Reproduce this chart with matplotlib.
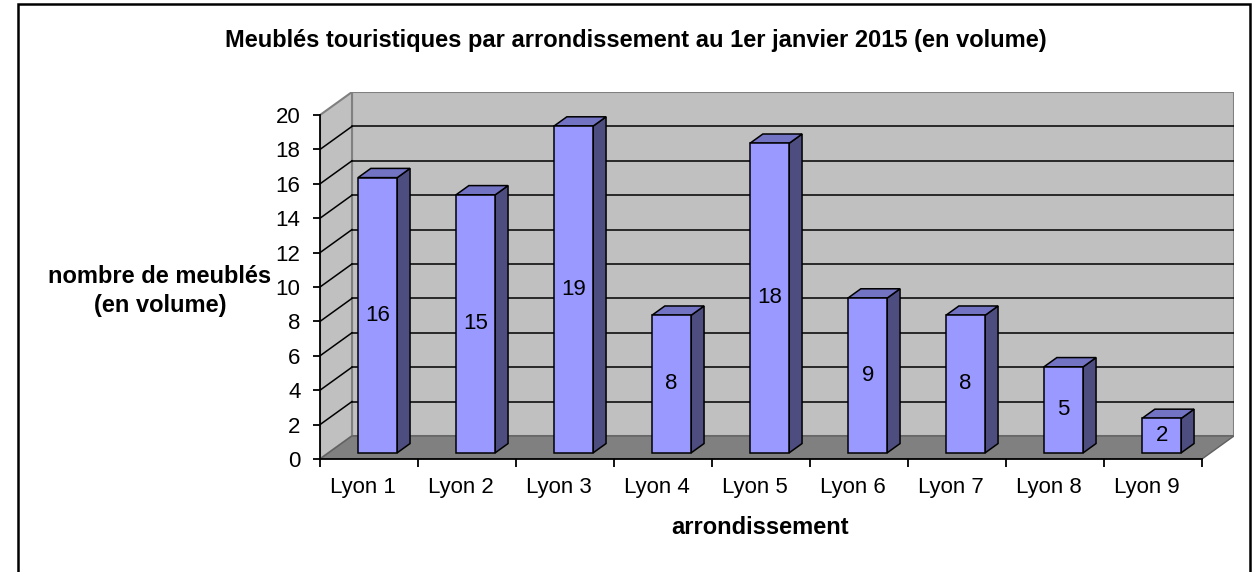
import matplotlib.pyplot as plt
from matplotlib.patches import Polygon, Rectangle

plt.rcParams['font.family'] = ['Liberation Sans', 'DejaVu Sans']

# data
categories = ["Lyon 1", "Lyon 2", "Lyon 3", "Lyon 4", "Lyon 5",
              "Lyon 6", "Lyon 7", "Lyon 8", "Lyon 9"]
values = [16, 15, 19, 8, 18, 9, 8, 5, 2]
y_ticks = list(range(0, 21, 2))

title = "Meublés touristiques par arrondissement au 1er janvier 2015 (en volume)"
ylabel = "nombre de meublés\n(en volume)"
xlabel = "arrondissement"

# pseudo 3D geometry (data units)
DX, DY = 0.3265, 1.34      # wall depth offset
F0 = 0.27                  # bar front position in depth
BD = 0.40                  # bar depth
W = 0.40                   # bar width
YMAX = 20
N = len(categories)

W_PX, H_PX = 1253, 572
fig = plt.figure(figsize=(W_PX / 100, H_PX / 100), dpi=100)

def fx(px):
    return px / W_PX

def fy(py):
    return 1 - py / H_PX

ax = fig.add_axes([fx(320), fy(459), 914 / W_PX, 367 / H_PX])
ax.set_xlim(0, N + DX)
ax.set_ylim(0, YMAX + DY)
ax.patch.set_visible(False)

wall_col = "#C0C0C0"
floor_col = "#808080"
edge_gray = "#808080"

# back wall and side wall
ax.add_patch(Polygon([(DX, DY), (N + DX, DY), (N + DX, YMAX + DY), (DX, YMAX + DY)],
                     closed=True, facecolor=wall_col, edgecolor=edge_gray, lw=1.5, zorder=0))
ax.add_patch(Polygon([(0, 0), (DX, DY), (DX, YMAX + DY), (0, YMAX)],
                     closed=True, facecolor=wall_col, edgecolor=edge_gray, lw=1.5, zorder=0))

# gridlines
for t in y_ticks[1:-1]:
    ax.plot([DX, N + DX], [t + DY, t + DY], color="black", lw=1.1, zorder=1)
    ax.plot([0, DX], [t, t + DY], color="black", lw=1.1, zorder=1)

# floor
ax.add_patch(Polygon([(0, 0), (N, 0), (N + DX, DY), (DX, DY)],
                     closed=True, facecolor=floor_col, edgecolor="#606060", lw=1.0, zorder=2))

# bars
xs = [i + 0.5 + F0 * DX for i in range(N)]
y0 = F0 * DY
ax.bar(xs, values, width=W, bottom=y0, color="#9999FF", edgecolor="black",
       lw=1.1, zorder=4)
for x, v in zip(xs, values):
    xl, xr = x - W / 2, x + W / 2
    ddx, ddy = BD * DX, BD * DY
    ax.add_patch(Polygon([(xr, y0), (xr + ddx, y0 + ddy), (xr + ddx, y0 + v + ddy), (xr, y0 + v)],
                         closed=True, facecolor="#4D4D80", edgecolor="black", lw=1.1, zorder=3))
    ax.add_patch(Polygon([(xl, y0 + v), (xr, y0 + v), (xr + ddx, y0 + v + ddy), (xl + ddx, y0 + v + ddy)],
                         closed=True, facecolor="#7373C4", edgecolor="black", lw=1.1, zorder=3))
    ax.text(x, y0 + v / 2, str(v), ha="center", va="center", fontsize=16, zorder=5)

# axes lines
for s in ["top", "right"]:
    ax.spines[s].set_visible(False)
ax.spines["left"].set_bounds(0, YMAX)
ax.spines["bottom"].set_bounds(0, N)
ax.spines["left"].set_linewidth(1.3)
ax.spines["bottom"].set_linewidth(1.3)
ax.spines["left"].set_zorder(6)
ax.spines["bottom"].set_zorder(6)

ax.set_yticks(y_ticks)
ax.tick_params(axis="y", direction="out", length=5, width=1.3, pad=9, labelsize=16)
ax.set_xticks(range(N + 1))
ax.set_xticklabels([])
ax.tick_params(axis="x", which="major", direction="out", length=6, width=1.3)
ax.set_xticks([i + 0.44 for i in range(N)], minor=True)
ax.set_xticklabels(categories, minor=True)
ax.tick_params(axis="x", which="minor", length=0, pad=13, labelsize=16)

# texts
fig.text(fx(636), fy(40), title, ha="center", va="center", fontsize=17, fontweight="bold")
fig.text(fx(160), fy(291), ylabel, ha="center", va="center", fontsize=17, fontweight="bold",
         linespacing=1.35)
fig.text(fx(760), fy(528), xlabel, ha="center", va="center", fontsize=17, fontweight="bold")

# outer frame
fig.patches.append(Rectangle((fx(18), fy(600)), fx(1250) - fx(18), fy(4) - fy(600),
                             transform=fig.transFigure, fill=False, edgecolor="black", lw=1.8))

fig.savefig("out.png", dpi=100)
